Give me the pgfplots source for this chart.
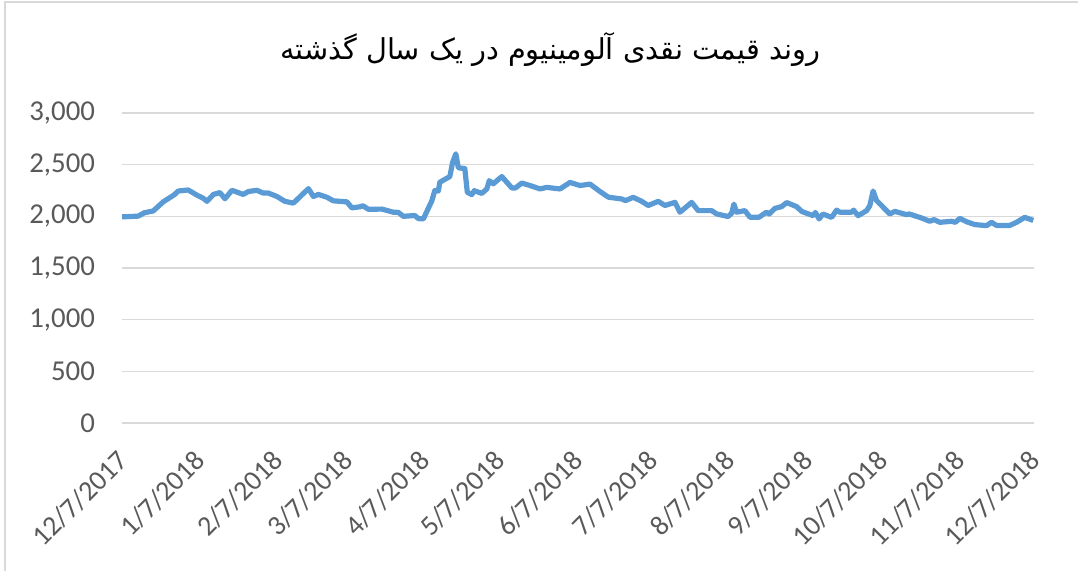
\documentclass[border=0pt]{standalone}
\usepackage{pgfplots}
\pgfplotsset{compat=1.18}
\usepackage{fontspec}
\setmainfont{Carlito}
\newfontfamily\arabicfont[Script=Arabic]{DejaVu Sans}
\TeXXeTstate=1
\definecolor{linebl}{HTML}{5B9BD5}
\definecolor{gridg}{HTML}{D9D9D9}
\definecolor{txtg}{HTML}{595959}
\begin{document}
\begin{tikzpicture}
\useasboundingbox (-61pt,-74pt) rectangle (478pt,211.5pt);
\draw[gridg, line width=0.8pt] (-58.5pt,-80pt) -- (-58.5pt,210.5pt) -- (485pt,210.5pt);
\begin{axis}[
  at={(0pt,0pt)}, anchor=south west,
  scale only axis, width=456pt, height=155pt,
  xmin=0, xmax=365, ymin=0, ymax=3000,
  axis line style={draw=none},
  axis x line*=bottom,
  ytick={0,500,1000,1500,2000,2500,3000},
  xtick={0,31,62,90,121,151,182,212,243,274,304,335,365},
  xticklabels={12/7/2017,1/7/2018,2/7/2018,3/7/2018,4/7/2018,5/7/2018,6/7/2018,7/7/2018,8/7/2018,9/7/2018,10/7/2018,11/7/2018,12/7/2018},
  ymajorgrids, grid style={gridg, line width=0.8pt},
  major tick length=0pt,
  tick label style={font=\fontsize{14}{16}\selectfont, text=txtg},
  /pgf/number format/assume math mode=true,
  /pgf/number format/1000 sep={,},
  yticklabel style={xshift=-10pt, font=\fontsize{14.4}{16}\selectfont},
  xticklabel style={xshift=3pt, yshift=-14pt, rotate=45, anchor=east},
  clip=false,
]
\addplot[linebl, line width=2.6pt, line join=round] coordinates {
(0,1995)(3,1998)(6.5,2002)(9,2035)(12.5,2052)(16.5,2140)(21,2210)(22.5,2245)
(26.5,2255)(30,2205)(32.5,2175)(34,2145)(36.6,2212)(39.2,2230)(41.2,2170)
(44,2252)(48.5,2212)(50.6,2240)(54,2252)(56.5,2225)(58.6,2225)(62,2192)
(65.2,2145)(68.6,2128)(74.6,2268)(76.6,2192)(78.6,2212)(82,2185)(84.6,2150)
(90,2140)(92,2082)(95.2,2092)(96.5,2102)(98.6,2068)(104,2070)(108.6,2040)
(110.6,2038)(112.6,2000)(117.2,2008)(118.6,1978)(120.6,1975)(124,2150)
(125.2,2250)(126.6,2245)(127.2,2330)(131.2,2385)(132.3,2520)(133.6,2605)
(134.6,2470)(137.2,2462)(138.2,2232)(140,2210)(141,2248)(144,2222)(146,2265)
(147,2345)(148.6,2315)(152,2385)(156,2275)(157.5,2275)(160,2322)(163.3,2298)
(167.3,2265)(170,2280)(175.3,2265)(179.3,2328)(183.3,2298)(187.3,2312)
(191.3,2240)(194.7,2185)(200,2168)(201.5,2152)(204.6,2184)(208,2145)
(210.6,2105)(214.6,2145)(217.3,2105)(221.3,2135)(223.3,2040)(228,2135)
(230.6,2055)(236,2055)(238,2023)(242.6,1998)(244,2030)(244.9,2118)(246,2040)
(249.3,2055)(251.3,1992)(255,1992)(257.9,2040)(259,2023)(261.3,2077)
(264,2094)(266,2133)(270,2094)(272,2048)(276.6,2006)(277.5,2038)(279,1975)
(280.5,2022)(284,1990)(286,2060)(287.3,2040)(292,2040)(292.8,2060)
(294.6,2006)(298,2055)(299.3,2103)(300.6,2245)(302,2152)(307.3,2023)
(309.3,2048)(314,2016)(315,2023)(320,1984)(323.3,1952)(325,1968)(327.3,1942)
(332,1952)(333.5,1942)(335.3,1980)(338,1948)(341.3,1920)(346,1910)(348,1942)
(350,1912)(355.3,1912)(358,1942)(361.3,1990)(363,1975)(364.7,1960)
};
\end{axis}
\node[font=\arabicfont\fontsize{14.4}{18}\selectfont, text=black] at (214pt,186.5pt) {\beginR روند قیمت نقدی آلومینیوم در یک سال گذشته\endR};
\end{tikzpicture}
\end{document}
